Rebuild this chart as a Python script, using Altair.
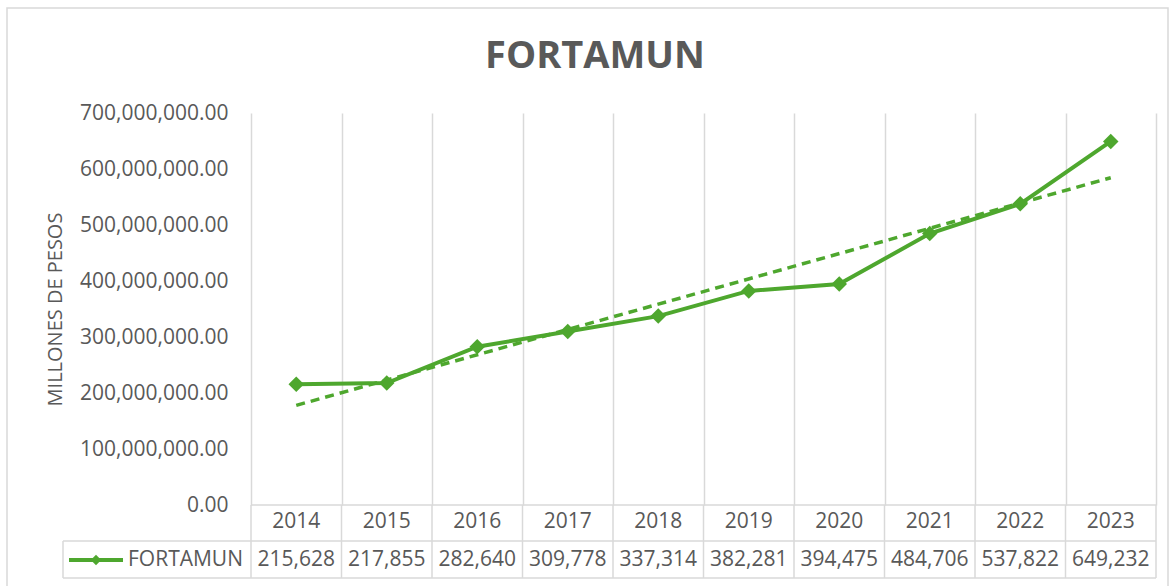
import altair as alt
import pandas as pd

# ---- data ----
years = [2014, 2015, 2016, 2017, 2018, 2019, 2020, 2021, 2022, 2023]
miles = [215628, 217855, 282640, 309778, 337314, 382281, 394475, 484706, 537822, 649232]  # thousands of pesos
y_ticks = [0, 100000000, 200000000, 300000000, 400000000, 500000000, 600000000, 700000000]
chart_title = "FORTAMUN"
y_title = "MILLONES DE PESOS"
series_name = "FORTAMUN"

df = pd.DataFrame({"year": years, "miles": miles})
df["pesos"] = df["miles"] * 1000
bound_vals = [years[0] - 0.5 + i for i in range(len(years) + 1)]
bounds = pd.DataFrame({"year": bound_vals})
one = pd.DataFrame({"k": [0]})

# ---- layout / style ----
W, H = 905, 392
FONT = "Open Sans"
GRAY = "#595959"
GRID = "#D9D9D9"
GREEN = "#4EA72E"

xscale = alt.Scale(domain=[years[0] - 0.5, years[-1] + 0.5], nice=False, zero=False)
yscale = alt.Scale(domain=[0, 700000000], nice=False)

x_axis = alt.Axis(values=bound_vals, grid=True, gridColor=GRID, gridWidth=1.5,
                  labels=False, ticks=False, domain=False, title=None)
y_axis = alt.Axis(values=y_ticks, format=",.2f", grid=False, ticks=False, tickSize=0,
                  domain=False, labelFont=FONT, labelFontSize=21, labelColor=GRAY,
                  labelPadding=23, title=y_title, titleFont=FONT, titleFontSize=20,
                  titleFontWeight="normal", titleColor=GRAY, titleX=-196, titleY=H / 2,
                  titleAlign="center", titleBaseline="middle", titleAngle=270)

X = alt.X("year:Q", scale=xscale, axis=x_axis)
Y = alt.Y("pesos:Q", scale=yscale, axis=y_axis)

base = alt.Chart(df)

line = base.mark_line(color=GREEN, strokeWidth=4).encode(x=X, y=Y)
trend = base.transform_regression("year", "pesos").mark_line(
    color=GREEN, strokeWidth=3.5, strokeDash=[9, 6]).encode(x=X, y=Y)
points = base.mark_point(shape="diamond", filled=True, size=240, color=GREEN,
                         opacity=1).encode(x=X, y=Y)

# data table under the plot
year_txt = base.mark_text(font=FONT, fontSize=21, color=GRAY, baseline="middle").encode(
    x=X, y=alt.value(H + 17), text=alt.Text("year:Q", format="d"))
val_txt = base.mark_text(font=FONT, fontSize=21, color=GRAY, baseline="middle").encode(
    x=X, y=alt.value(447), text=alt.Text("miles:Q", format=","))

vlines = alt.Chart(bounds).mark_rule(color=GRID, strokeWidth=1.5).encode(
    x=X, y=alt.value(H), y2=alt.value(465))

oc = alt.Chart(one)
h1 = oc.mark_rule(color=GRID, strokeWidth=1.5).encode(
    x=alt.value(0), x2=alt.value(W), y=alt.value(H))
h2 = oc.mark_rule(color=GRID, strokeWidth=1.5).encode(
    x=alt.value(-188), x2=alt.value(W), y=alt.value(428))
h3 = oc.mark_rule(color=GRID, strokeWidth=1.5).encode(
    x=alt.value(-188), x2=alt.value(W), y=alt.value(465))
v0 = oc.mark_rule(color=GRID, strokeWidth=1.5).encode(
    x=alt.value(-188), y=alt.value(428), y2=alt.value(465))

leg_line = oc.mark_rule(color=GREEN, strokeWidth=4).encode(
    x=alt.value(-182), x2=alt.value(-128), y=alt.value(447))
leg_pt = oc.mark_point(shape="diamond", filled=True, size=110, color=GREEN, opacity=1).encode(
    x=alt.value(-155), y=alt.value(447))
leg_txt = oc.mark_text(font=FONT, fontSize=21, color=GRAY, align="left", baseline="middle").encode(
    x=alt.value(-123), y=alt.value(447), text=alt.value(series_name))

title_txt = oc.mark_text(font=FONT, fontSize=38, fontWeight="bold", color=GRAY,
                         align="center", baseline="alphabetic").encode(
    x=alt.value(344), y=alt.value(-45), text=alt.value(chart_title))

frame = oc.mark_rect(fill=None, stroke=GRID, strokeWidth=1.5).encode(
    x=alt.value(-244), y=alt.value(-105), x2=alt.value(917), y2=alt.value(480))

chart = alt.layer(
    frame, vlines, h1, h2, h3, v0, trend, line, points,
    year_txt, val_txt, leg_line, leg_pt, leg_txt, title_txt
).properties(
    width=W, height=H,
    autosize=alt.AutoSizeParams(type="none"),
    padding={"left": 251, "top": 113, "right": 19, "bottom": 81},
    background="white",
).configure_view(stroke=None)

chart.save("out.html", embed_options={"renderer": "svg", "actions": False})
